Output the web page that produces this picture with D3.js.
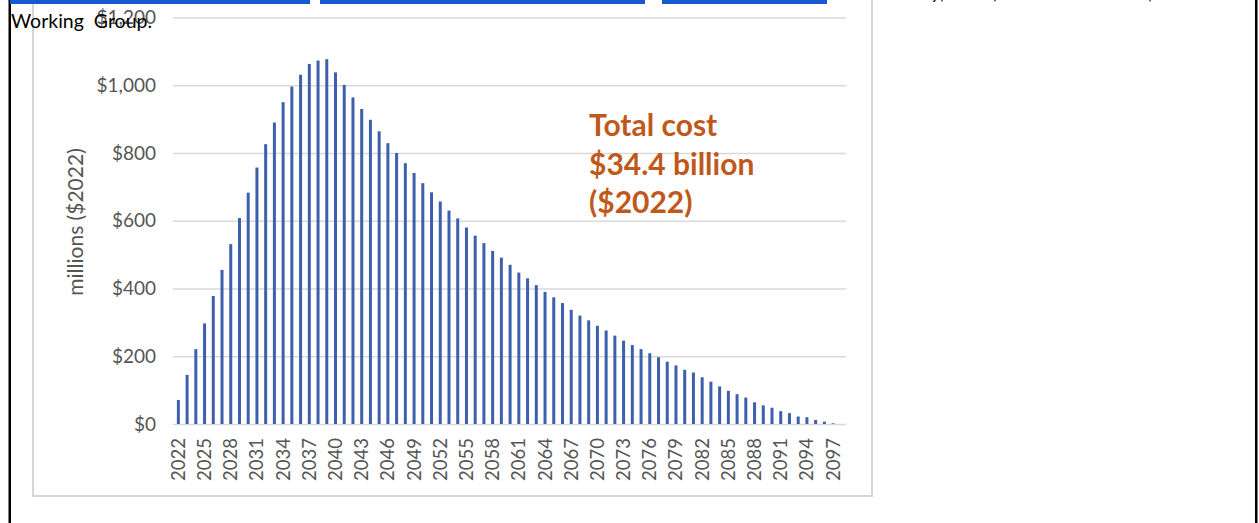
<!DOCTYPE html>
<html>
<head>
<meta charset="utf-8">
<script src="https://cdn.jsdelivr.net/npm/d3@7"></script>
<style>
  body { margin: 0; background: #fff; overflow: hidden; }
  svg { display: block; }
</style>
</head>
<body>
<div id="chart"></div>
<script>
// data (millions, $2022)
let years = d3.range(2022, 2098);
let costs = [
  71, 145, 221, 297, 378, 455, 531, 608, 683, 757,
  826, 890, 950, 996, 1031, 1063, 1073, 1077, 1038, 1001,
  964, 930, 898, 864, 829, 800, 770, 741, 711, 684,
  657, 630, 607, 580, 556, 534, 511, 491, 470, 447,
  430, 410, 390, 374, 357, 337, 320, 306, 290, 276,
  261, 246, 233, 221, 209, 197, 184, 173, 160, 152,
  138, 125, 111, 98, 88, 78, 64, 55, 48, 38,
  32, 22, 20, 12, 7, 2
];
let yTicks = [0, 200, 400, 600, 800, 1000, 1200];
let xLabelYears = years.filter((d, i) => i % 3 === 0);
let noteLines = ["Total cost", "$34.4 billion", "($2022)"];

let svgWidth = 1259;
let svgHeight = 523;

let plot = { left: 173, right: 846, top: 17.5, bottom: 424 };

let svg = d3.select("#chart")
  .append("svg")
  .attr("width", svgWidth)
  .attr("height", svgHeight);

// page frame lines
svg.append("rect").attr("x", 8.5).attr("y", 0).attr("width", 2.5).attr("height", svgHeight).attr("fill", "#000");
svg.append("rect").attr("x", 1255).attr("y", 0).attr("width", 2.5).attr("height", svgHeight).attr("fill", "#000");

// chart picture box
svg.append("rect")
  .attr("x", 33).attr("y", -10)
  .attr("width", 839).attr("height", 506)
  .attr("fill", "#fff")
  .attr("stroke", "#d6d6d6")
  .attr("stroke-width", 2);

// blue link underlines cut off at the top
[[10, 310], [320, 645], [662, 827]].forEach(function(s) {
  svg.append("rect")
    .attr("x", s[0]).attr("y", 0)
    .attr("width", s[1] - s[0]).attr("height", 4)
    .attr("fill", "#1558d0");
});

// scales
let x = d3.scaleBand()
  .domain(years)
  .range([plot.left + 1, plot.left + 1 + 8.73 * years.length]);

let y = d3.scaleLinear()
  .domain([0, 1200])
  .range([plot.bottom, plot.top]);

// gridlines + y labels
let leftAxis = d3.axisLeft(y)
  .tickValues(yTicks)
  .tickSize(-(plot.right - plot.left))
  .tickPadding(17)
  .tickFormat(d => "$" + d3.format(",")(d));

let yAxisG = svg.append("g")
  .attr("transform", `translate(${plot.left}, 0)`)
  .call(leftAxis);

yAxisG.select(".domain").remove();
yAxisG.selectAll("line")
  .attr("stroke", "#d9d9d9")
  .attr("stroke-width", 1.4);
yAxisG.selectAll("text")
  .attr("fill", "#555")
  .style("font-family", "Lato, 'Open Sans', sans-serif")
  .style("font-size", "19px");

// bars
svg.append("g")
  .selectAll("rect")
  .data(costs)
  .enter()
  .append("rect")
  .attr("x", (d, i) => x(years[i]) + x.bandwidth() / 2 - 1.5)
  .attr("y", d => y(d))
  .attr("width", 3)
  .attr("height", d => y(0) - y(d))
  .attr("fill", "#3d60ac");

// x labels (every third year, rotated)
svg.append("g")
  .selectAll("text")
  .data(xLabelYears)
  .enter()
  .append("text")
  .attr("transform", d => `translate(${x(d) + x.bandwidth() / 2}, 438) rotate(-90)`)
  .attr("dy", "0.35em")
  .style("text-anchor", "end")
  .style("font-family", "Lato, 'Open Sans', sans-serif")
  .style("font-size", "18.5px")
  .attr("fill", "#555")
  .text(d => d);

// y axis title
svg.append("text")
  .attr("transform", "translate(76, 222) rotate(-90)")
  .attr("dy", "0.35em")
  .style("text-anchor", "middle")
  .style("font-family", "Lato, 'Open Sans', sans-serif")
  .style("font-size", "21px")
  .attr("fill", "#555")
  .text("millions ($2022)");

// total cost note
svg.append("g")
  .selectAll("text")
  .data(noteLines)
  .enter()
  .append("text")
  .attr("x", 589)
  .attr("y", (d, i) => 136 + i * 38.5)
  .style("font-family", "Lato, 'Open Sans', sans-serif")
  .style("font-weight", "bold")
  .style("font-size", "30px")
  .attr("fill", "#c0581c")
  .text(d => d);

// page text overlapping the picture
svg.append("text")
  .attr("x", 11)
  .attr("y", 28)
  .style("font-family", "Lato, 'Open Sans', sans-serif")
  .style("font-size", "19.5px")
  .attr("fill", "#000")
  .attr("xml:space", "preserve")
  .text("Working  Group.");

// descenders of the line above, cut off
[["Academy,", 945], ["2023,", 998], ["Committee,", 1153]].forEach(function(t) {
  svg.append("text")
    .attr("x", t[1])
    .attr("y", -1)
    .style("text-anchor", "end")
    .style("font-family", "Lato, sans-serif")
    .style("font-style", "italic")
    .style("font-size", "20px")
    .attr("fill", "#000")
    .text(t[0]);
});
</script>
</body>
</html>
